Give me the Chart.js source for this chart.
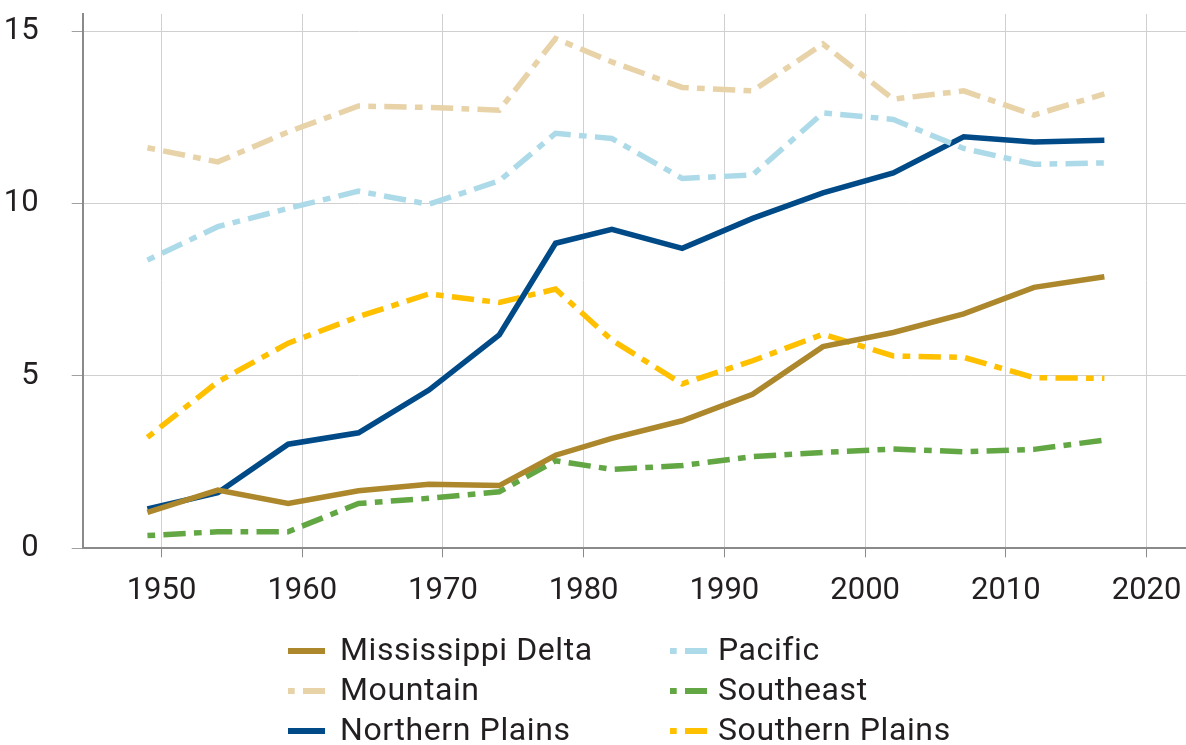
<!DOCTYPE html>
<html>
<head>
<meta charset="utf-8">
<script src="https://cdn.jsdelivr.net/npm/chart.js@4"></script>
<style>
  html, body { margin: 0; padding: 0; background: #fff; }
  #wrap { width: 1186px; height: 745px; }
</style>
</head>
<body>
<div id="wrap"><canvas id="regionChart" width="1186" height="745"></canvas></div>
<script>
// Census years
const years = [1949, 1954, 1959, 1964, 1969, 1974, 1978, 1982, 1987, 1992, 1997, 2002, 2007, 2012, 2017];

// Values per region
const mississippiDelta = [1.04, 1.69, 1.30, 1.67, 1.86, 1.82, 2.70, 3.19, 3.70, 4.47, 5.85, 6.26, 6.80, 7.57, 7.88];
const pacific          = [8.36, 9.33, 9.86, 10.36, 9.98, 10.66, 12.04, 11.89, 10.73, 10.83, 12.63, 12.44, 11.60, 11.14, 11.18];
const mountain         = [11.62, 11.21, 12.08, 12.83, 12.79, 12.71, 14.79, 14.11, 13.37, 13.27, 14.63, 13.03, 13.27, 12.57, 13.18];
const southeast        = [0.37, 0.48, 0.48, 1.30, 1.45, 1.64, 2.54, 2.29, 2.40, 2.66, 2.78, 2.88, 2.80, 2.87, 3.14];
const northernPlains   = [1.14, 1.61, 3.02, 3.35, 4.59, 6.19, 8.85, 9.25, 8.70, 9.57, 10.31, 10.89, 11.94, 11.79, 11.84];
const southernPlains   = [3.22, 4.83, 5.95, 6.72, 7.38, 7.13, 7.52, 6.04, 4.77, 5.44, 6.21, 5.58, 5.54, 4.95, 4.93];

const regionNames = ['Mississippi Delta', 'Pacific', 'Mountain', 'Southeast', 'Northern Plains', 'Southern Plains'];
const regionValues = [mississippiDelta, pacific, mountain, southeast, northernPlains, southernPlains];
const regionColors = ['#AC872C', '#ADDAE8', '#E8D2A8', '#62A744', '#004A87', '#FFC000'];
const regionDashed = [false, true, true, true, false, true];

const DASH = [7.7, 8.3, 22.3, 8.3];
const FONT = 'Roboto, "Liberation Sans", sans-serif';
const TEXT = '#231F20';

function toPoints(values) {
    return years.map((y, i) => ({ x: y, y: values[i] }));
}

const datasets = regionNames.map((name, i) => ({
    label: name,
    data: toPoints(regionValues[i]),
    borderColor: regionColors[i],
    backgroundColor: regionColors[i],
    borderWidth: 5.5,
    borderDash: regionDashed[i] ? DASH : [],
    borderCapStyle: 'butt',
    pointRadius: 0,
    tension: 0,
    fill: false
}));

// Two-column legend under the plot
const legendPlugin = {
    id: 'twoColLegend',
    afterDraw(chart) {
        const ctx = chart.ctx;
        const cols = [{ x: 288, tx: 340 }, { x: 670, tx: 718 }];
        const rowY = [651, 691, 731];
        ctx.save();
        ctx.font = '32px ' + FONT;
        ctx.letterSpacing = '0.6px';
        ctx.textBaseline = 'middle';
        ctx.fillStyle = TEXT;
        chart.data.datasets.forEach((ds, i) => {
            const c = cols[i % 2];
            const y = rowY[Math.floor(i / 2)];
            ctx.beginPath();
            ctx.strokeStyle = ds.borderColor;
            ctx.lineWidth = 6;
            ctx.lineCap = 'butt';
            ctx.setLineDash(ds.borderDash.length ? ds.borderDash : []);
            ctx.lineDashOffset = 1;
            ctx.moveTo(c.x, y);
            ctx.lineTo(c.x + 37, y);
            ctx.stroke();
            ctx.setLineDash([]);
            ctx.fillText(ds.label, c.tx, y + 1);
        });
        ctx.restore();
    }
};

const ctx = document.getElementById('regionChart').getContext('2d');
new Chart(ctx, {
    type: 'line',
    data: { datasets: datasets },
    options: {
        responsive: false,
        animation: false,
        devicePixelRatio: 1,
        layout: { padding: { top: 14, right: 0, left: 0, bottom: 0 } },
        plugins: {
            legend: { display: false },
            tooltip: { enabled: false }
        },
        scales: {
            x: {
                type: 'linear',
                min: 1944.4,
                max: 2022.8,
                grid: { color: '#D0D0D0', lineWidth: 1, tickLength: 9, tickColor: '#8A8A8A' },
                border: { color: '#8A8A8A', width: 2 },
                ticks: {
                    stepSize: 10,
                    includeBounds: false,
                    padding: 15,
                    color: TEXT,
                    font: { family: FONT, size: 31 },
                    maxRotation: 0,
                    callback: v => String(v)
                },
                afterFit(scale) {
                    scale.height = 196.7;
                    scale.paddingLeft = 0;
                    scale.paddingRight = 0;
                }
            },
            y: {
                min: 0,
                max: 15.5,
                grid: { color: '#D0D0D0', lineWidth: 1, tickLength: 11, tickColor: '#A0A0A0' },
                border: { color: '#8A8A8A', width: 2 },
                ticks: {
                    stepSize: 5,
                    includeBounds: false,
                    padding: 33,
                    color: TEXT,
                    font: { family: FONT, size: 31 }
                },
                afterFit(scale) {
                    scale.width = 82.7;
                    scale.paddingTop = 0;
                    scale.paddingBottom = 0;
                }
            }
        }
    },
    plugins: [legendPlugin]
});
</script>
</body>
</html>
